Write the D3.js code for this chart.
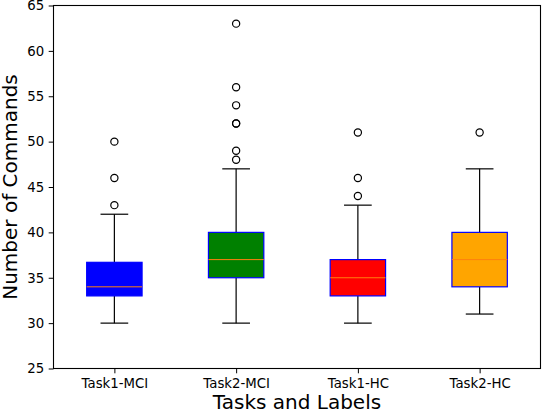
<!DOCTYPE html>
<html>
<head>
<meta charset="utf-8">
<script src="https://cdn.jsdelivr.net/npm/d3@7/dist/d3.min.js"></script>
<style>
  body { margin: 0; background: #fff; }
  svg { display: block; font-family: "DejaVu Sans", sans-serif; }
</style>
</head>
<body>
<svg id="chart" width="542" height="412"></svg>
<script>
// box statistics
const categories = ["Task1-MCI", "Task2-MCI", "Task1-HC", "Task2-HC"];
const whiskerLow = [30, 30, 30, 31];
const q1 = [33, 35, 33, 34];
const median = [34, 37, 35, 37];
const q3 = [36.7, 40, 37, 40];
const whiskerHigh = [42, 47, 43, 47];
const outliers = [
  [43, 46, 50],
  [48, 49, 52, 52, 54, 56, 63],
  [44, 46, 51],
  [51]
];
const fills = ["#0000ff", "#008000", "#ff0000", "#ffa500"];
const yTicks = [25, 30, 35, 40, 45, 50, 55, 60, 65];

const margin = {left: 53.5, right: 1.5, top: 5.5, bottom: 43.5};
const W = 542, H = 412;
const svg = d3.select("#chart");

const x = d3.scaleLinear()
  .domain([0.5, categories.length + 0.5])
  .range([margin.left, W - margin.right]);
const y = d3.scaleLinear()
  .domain([25, 65])
  .range([H - margin.bottom, margin.top]);

const unit = x(2) - x(1);
const boxW = 0.455 * unit;
const capW = boxW / 2;

const data = categories.map((c, i) => ({
  c, i, pos: i + 1,
  lo: whiskerLow[i], q1: q1[i], med: median[i], q3: q3[i], hi: whiskerHigh[i],
  out: outliers[i], fill: fills[i]
}));

const g = svg.append("g");

const box = g.selectAll("g.box").data(data).join("g").attr("class", "box");

// whiskers
box.append("line")
  .attr("x1", d => x(d.pos)).attr("x2", d => x(d.pos))
  .attr("y1", d => y(d.lo)).attr("y2", d => y(d.q1))
  .attr("stroke", "#000").attr("stroke-width", 1.2);
box.append("line")
  .attr("x1", d => x(d.pos)).attr("x2", d => x(d.pos))
  .attr("y1", d => y(d.q3)).attr("y2", d => y(d.hi))
  .attr("stroke", "#000").attr("stroke-width", 1.2);
// caps
box.append("line")
  .attr("x1", d => x(d.pos) - capW / 2).attr("x2", d => x(d.pos) + capW / 2)
  .attr("y1", d => y(d.lo)).attr("y2", d => y(d.lo))
  .attr("stroke", "#000").attr("stroke-width", 1.2);
box.append("line")
  .attr("x1", d => x(d.pos) - capW / 2).attr("x2", d => x(d.pos) + capW / 2)
  .attr("y1", d => y(d.hi)).attr("y2", d => y(d.hi))
  .attr("stroke", "#000").attr("stroke-width", 1.2);
// box
box.append("rect")
  .attr("x", d => x(d.pos) - boxW / 2)
  .attr("width", boxW)
  .attr("y", d => y(d.q3))
  .attr("height", d => y(d.q1) - y(d.q3))
  .attr("fill", d => d.fill)
  .attr("stroke", "#0000ff")
  .attr("stroke-width", 1.2);
// median
box.append("line")
  .attr("x1", d => x(d.pos) - boxW / 2).attr("x2", d => x(d.pos) + boxW / 2)
  .attr("y1", d => y(d.med)).attr("y2", d => y(d.med))
  .attr("stroke", "#ff7f0e").attr("stroke-width", 1);
// fliers
box.selectAll("circle")
  .data(d => d.out.map(v => ({pos: d.pos, v})))
  .join("circle")
  .attr("cx", d => x(d.pos))
  .attr("cy", d => y(d.v))
  .attr("r", 3.6)
  .attr("fill", "none")
  .attr("stroke", "#000")
  .attr("stroke-width", 1.2);

// axes
const yAxis = d3.axisLeft(y).tickValues(yTicks).tickSize(4.8).tickPadding(4.5);
const ya = svg.append("g")
  .attr("transform", `translate(${margin.left},0)`)
  .call(yAxis);
const xAxis = d3.axisBottom(x).tickValues(data.map(d => d.pos))
  .tickFormat((d, i) => categories[i]).tickSize(4.8).tickPadding(5.5);
const xa = svg.append("g")
  .attr("transform", `translate(0,${H - margin.bottom})`)
  .call(xAxis);
[ya, xa].forEach(a => {
  a.select(".domain").remove();
  a.selectAll("text").attr("font-size", 13.3).attr("font-family", "DejaVu Sans").attr("fill", "#000");
  a.selectAll("line").attr("stroke", "#000").attr("stroke-width", 1);
});

// frame
svg.append("rect")
  .attr("x", margin.left).attr("y", margin.top)
  .attr("width", W - margin.left - margin.right)
  .attr("height", H - margin.top - margin.bottom)
  .attr("fill", "none").attr("stroke", "#000").attr("stroke-width", 1.1);

// labels
svg.append("text")
  .attr("x", (margin.left + W - margin.right) / 2)
  .attr("y", 409)
  .attr("text-anchor", "middle")
  .attr("font-size", 20)
  .text("Tasks and Labels");
svg.append("text")
  .attr("transform", `translate(17,${(margin.top + H - margin.bottom) / 2}) rotate(-90)`)
  .attr("text-anchor", "middle")
  .attr("font-size", 20)
  .text("Number of Commands");
</script>
</body>
</html>
